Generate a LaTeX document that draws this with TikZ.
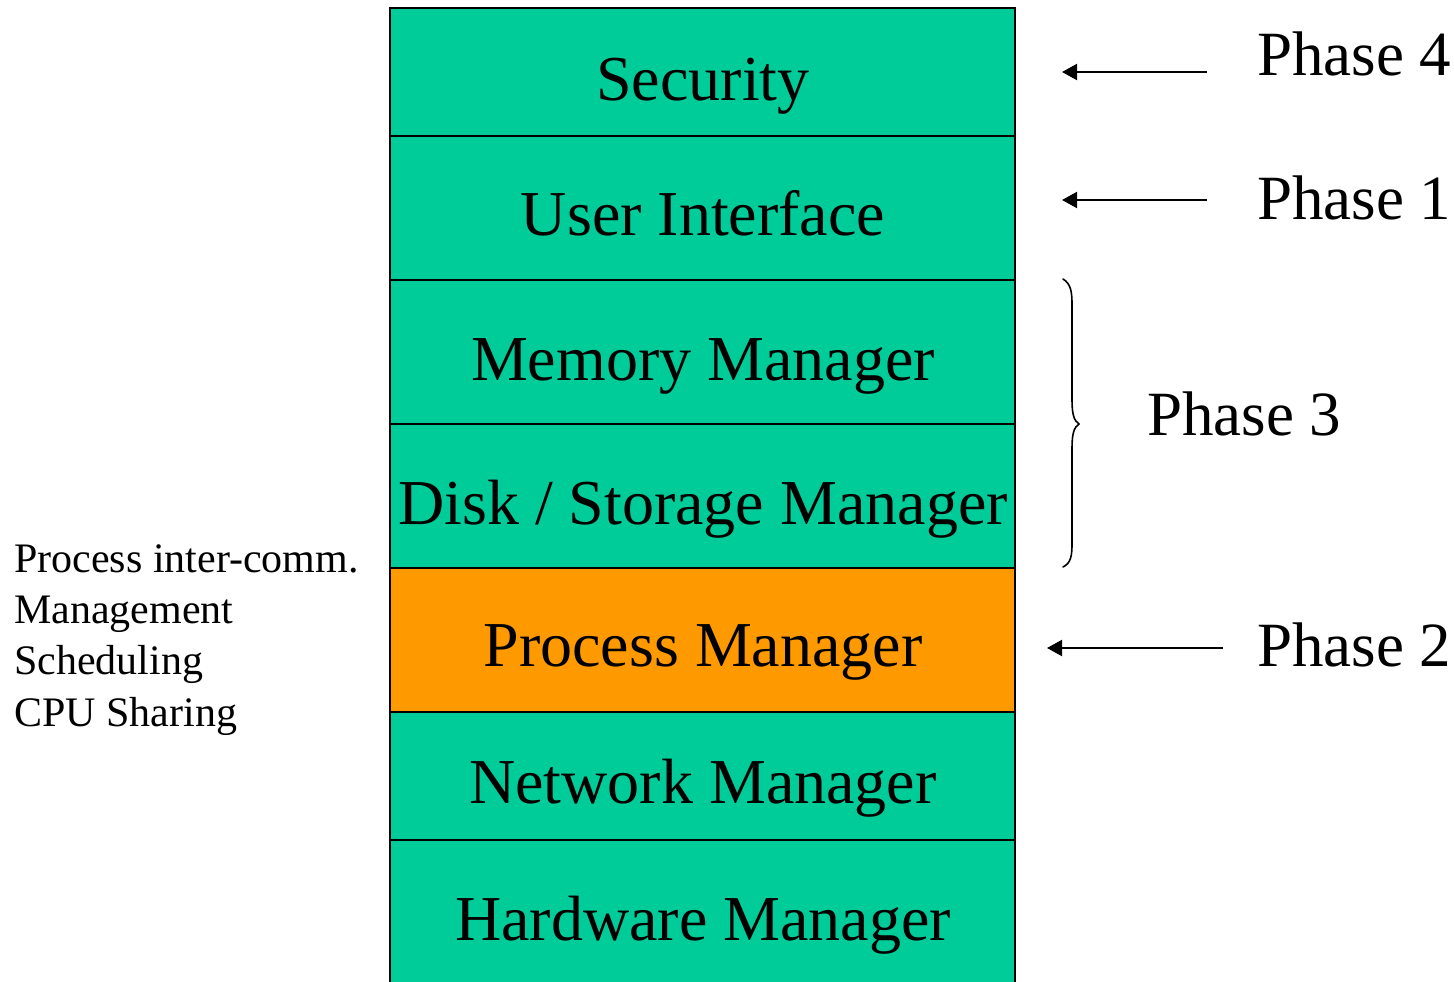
\documentclass[tikz,border=0pt]{standalone}
\usepackage{fontspec}
\setmainfont{Liberation Serif}
\usetikzlibrary{arrows.meta}
\definecolor{layergreen}{RGB}{0,204,153}
\definecolor{layerorange}{RGB}{255,153,0}
\tikzset{
  layer/.style={draw=black, line width=2pt, fill=layergreen},
  hotlayer/.style={layer, fill=layerorange},
  layertext/.style={font=\fontsize{64}{76}\selectfont, anchor=base, inner sep=0pt},
  phasetext/.style={font=\fontsize{63}{76}\selectfont, anchor=base west, inner sep=0pt},
  notetext/.style={font=\fontsize{42}{51}\selectfont, anchor=base west, inner sep=0pt},
  pointer/.style={line width=2pt, -{Triangle[length=15pt,width=16pt]}},
}
\begin{document}
\begin{tikzpicture}[x=1pt, y=-1pt]
  \useasboundingbox (0,0) rectangle (1454,982);
  \clip (0,0) rectangle (1454,982);

  % the stack of layers, top to bottom
  \draw[layer]    (390,8)   rectangle (1015,136);
  \draw[layer]    (390,136) rectangle (1015,280);
  \draw[layer]    (390,280) rectangle (1015,424);
  \draw[layer]    (390,424) rectangle (1015,568);
  \draw[hotlayer] (390,568) rectangle (1015,712);
  \draw[layer]    (390,712) rectangle (1015,840);
  \draw[layer]    (390,840) rectangle (1015,1000);

  \node[layertext] (sec)  at (703,100) {Security};
  \node[layertext] (ui)   at (703,235) {User Interface};
  \node[layertext] (mem)  at (703,380) {Memory Manager};
  \node[layertext] (disk) at (703,524) {Disk / Storage Manager};
  \node[layertext] (proc) at (703,666) {Process Manager};
  \node[layertext] (net)  at (703,803) {Network Manager};
  \node[layertext] (hw)   at (703,940) {Hardware Manager};

  % phase labels on the right
  \node[phasetext] (p4) at (1257,76)  {Phase 4};
  \node[phasetext] (p1) at (1257,219) {Phase 1};
  \node[phasetext] (p3) at (1147,435) {Phase 3};
  \node[phasetext] (p2) at (1257,666) {Phase 2};

  \coordinate (p4s) at (1207,72);   \coordinate (p4e) at (1062,72);
  \coordinate (p1s) at (1207,200);  \coordinate (p1e) at (1062,200);
  \coordinate (p2s) at (1223,648);  \coordinate (p2e) at (1047,648);

  \draw[pointer] (p4s) -- (p4e);
  \draw[pointer] (p1s) -- (p1e);
  \draw[pointer] (p2s) -- (p2e);

  % brace grouping memory and disk layers
  \coordinate (btop) at (1063,279);
  \coordinate (btip) at (1079,424);
  \coordinate (bbot) at (1063,567);
  \draw[line width=1.6pt, line cap=round]
    (btop) .. controls (1071,284) and (1072,292) .. (1072,305)
    -- (1072,400)
    .. controls (1072,414) and (1074,421) .. (btip)
    .. controls (1074,427) and (1072,434) .. (1072,448)
    -- (1072,543)
    .. controls (1072,556) and (1071,563) .. (bbot);

  % notes on the left
  \node[notetext] (n1) at (14,572) {Process inter-comm.};
  \node[notetext] (n2) at (14,623) {Management};
  \node[notetext] (n3) at (14,674) {Scheduling};
  \node[notetext] (n4) at (14,726) {CPU Sharing};
\end{tikzpicture}
\end{document}
